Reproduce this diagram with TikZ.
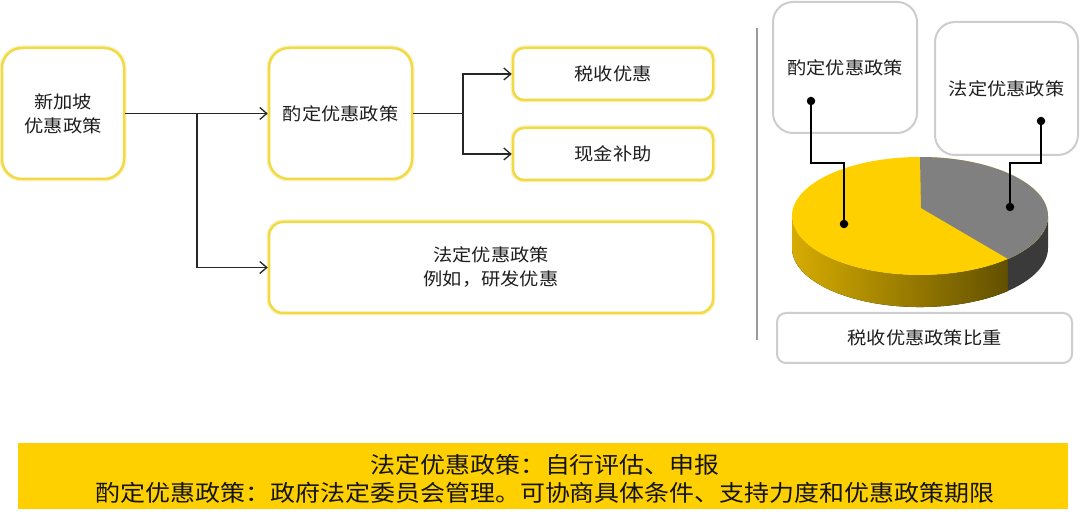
\documentclass[tikz,border=0pt]{standalone}
\usepackage{fontspec}
\newfontfamily\cjk[FakeStretch=1.1]{Noto Sans CJK SC}
\usetikzlibrary{arrows.meta}
\definecolor{ybord}{RGB}{240,218,70}
\definecolor{yglow}{RGB}{251,242,190}
\definecolor{gbord}{RGB}{205,205,205}
\definecolor{pieY}{RGB}{255,208,0}
\definecolor{pieG}{RGB}{128,128,128}
\definecolor{pieD}{RGB}{58,58,58}
\definecolor{sideL}{RGB}{214,172,0}
\definecolor{sideM}{RGB}{178,143,0}
\definecolor{sideR}{RGB}{98,80,0}
\definecolor{bannerY}{RGB}{255,208,0}
\definecolor{txt}{RGB}{30,30,30}
\begin{document}
\begin{tikzpicture}[x=1pt,y=-1pt,
  ybox/.style={draw=ybord, line width=2.5pt, rounded corners=#1,
    preaction={draw=yglow, line width=5pt}, fill=white, inner sep=0pt,
    align=center, text=txt, font=\cjk\fontsize{17.5}{24}\selectfont},
  ybox/.default=20pt,
  gbox/.style={draw=gbord, line width=2pt, rounded corners=#1, fill=white,
    inner sep=0pt, align=center, text=txt, font=\cjk\fontsize{17.5}{24}\selectfont},
  gbox/.default=20pt,
  conn/.style={draw=black!85, line width=1.3pt, -{Straight Barb[length=7pt,width=12pt]}},
  leader/.style={draw=black, line width=1.5pt},
  dotnode/.style={circle, fill=black, inner sep=0pt, minimum size=8.5pt},
]
\useasboundingbox[fill=white] (0,0) rectangle (1080,521);

% ---------- left flow chart ----------
\node[ybox, minimum width=122pt, minimum height=131pt] (a) at (63,113.5) {新加坡\\优惠政策};
\node[ybox, minimum width=143pt, minimum height=131pt] (b) at (340.5,113.5) {酌定优惠政策};
\node[ybox=11pt, minimum width=200pt, minimum height=52pt] (c) at (613,74) {税收优惠};
\node[ybox=11pt, minimum width=200pt, minimum height=52pt] (d) at (613,154) {现金补助};
\node[ybox=14pt, minimum width=444pt, minimum height=91pt] (e) at (491,267.5) {法定优惠政策\\例如，研发优惠};

\coordinate (j1) at (197,113.5);
\coordinate (j2) at (463,113.5);
\draw[conn] (a.east) -- (b.west);
\draw[conn] (j1) |- (e.west);
\draw[conn] (b.east) -- (j2) |- (c.west);
\draw[conn] (j2) |- (d.west);

% ---------- separator ----------
\coordinate (s1) at (757,28);
\coordinate (s2) at (757,340);
\draw[draw=black!40, line width=1.2pt] (s1) -- (s2);

% ---------- right: pie chart ----------
\node[gbox, minimum width=144pt, minimum height=131pt] (r1) at (845,67.5) {酌定优惠政策};
\node[gbox, minimum width=143pt, minimum height=133pt] (r2) at (1006.5,88.5) {法定优惠政策};
\node[gbox=9pt, minimum width=295pt, minimum height=50pt] (r3) at (924.5,338) {税收优惠政策比重};

% side band (yellow part, shaded)
\fill[left color=sideL, middle color=sideM, right color=sideR]
  (1008,258.9) arc[start angle=46.6, end angle=180, x radius=128, y radius=59]
  -- ++(0,32) arc[start angle=180, end angle=46.6, x radius=128, y radius=59] -- cycle;
% side band (dark part)
\fill[pieD]
  (1048,216) arc[start angle=0, end angle=46.6, x radius=128, y radius=59]
  -- ++(0,32) arc[start angle=46.6, end angle=0, x radius=128, y radius=59] -- cycle;
% top face
\fill[pieY] (920,216) ellipse [x radius=128, y radius=59];
\fill[pieG] (921,208) -- (920,157) arc[start angle=-90, end angle=46.6, x radius=128, y radius=59] -- cycle;

% leaders
\node[dotnode] (d1) at (811,101) {};
\node[dotnode] (d2) at (844,224) {};
\node[dotnode] (d3) at (1041,121) {};
\node[dotnode] (d4) at (1010,207) {};
\coordinate (k1) at (844,163);
\coordinate (k2) at (1010,163);
\draw[leader] (d1.center) |- (k1) -- (d2.center);
\draw[leader] (d3.center) |- (k2) -- (d4.center);

% ---------- bottom banner ----------
\node[fill=bannerY, minimum width=1050pt, minimum height=66pt, inner sep=0pt] (ban) at (543,476) {};
\node[align=center, text=black!92, inner sep=0pt, font=\cjk\fontsize{22.7}{28}\selectfont] (bantxt) at (545,479)
  {法定优惠政策：自行评估、申报\\酌定优惠政策：政府法定委员会管理。可协商具体条件、支持力度和优惠政策期限};
\end{tikzpicture}
\end{document}
